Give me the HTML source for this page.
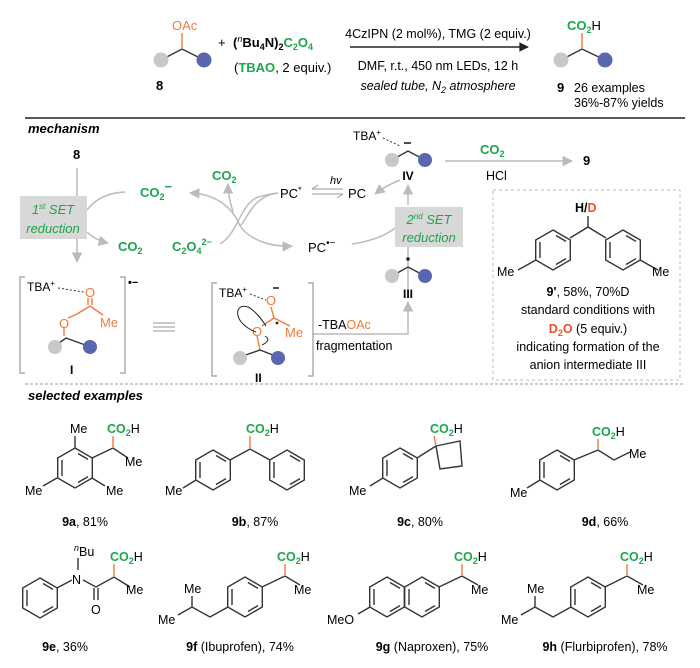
<!DOCTYPE html>
<html><head><meta charset="utf-8"><style>
html,body{margin:0;padding:0;background:#fff;}
svg{display:block;font-family:"Liberation Sans",Arial,sans-serif;}
.g{fill:#1aa64a}.o{fill:#f07a3a}.k{fill:#222}
</style></head><body>
<svg width="700" height="668" viewBox="0 0 700 668" xmlns="http://www.w3.org/2000/svg">
<defs>
<g id="hx" fill="none" stroke="#333" stroke-width="1.4">
<polygon points="0,-20 17.3,-10 17.3,10 0,20 -17.3,10 -17.3,-10"/>
<line x1="3" y1="-14.5" x2="13" y2="-8.6"/>
<line x1="13" y1="8.6" x2="3" y2="14.5"/>
<line x1="-13" y1="8" x2="-13" y2="-8"/>
</g>
<marker id="ar" viewBox="0 0 10 10" refX="9" refY="5" markerWidth="7" markerHeight="7" orient="auto"><path d="M0,0 L10,5 L0,10 z" fill="#bbb"/></marker>
<marker id="ak" viewBox="0 0 10 10" refX="9" refY="5" markerWidth="8" markerHeight="6" orient="auto"><path d="M0,0 L10,5 L0,10 z" fill="#222"/></marker>
</defs>

<!-- top reaction -->
<g stroke="#333" stroke-width="1.4" fill="none"><path d="M161,60 L182,49 L204,60"/></g>
<line x1="182" y1="49" x2="182" y2="33" stroke="#f07a3a" stroke-width="1.4"/>
<circle cx="161" cy="60" r="7.5" fill="#c8c8c8"/><circle cx="204" cy="60" r="7.5" fill="#5a66b0"/>
<text x="172" y="30" font-size="13" class="o">OAc</text>
<text x="156" y="90" font-size="13" font-weight="bold">8</text>
<text x="218" y="47" font-size="13">+</text>
<text x="233" y="47" font-size="13" font-weight="bold">(<tspan font-style="italic" font-weight="normal" font-size="9" dy="-5">n</tspan><tspan dy="5">Bu</tspan><tspan font-size="9" dy="3">4</tspan><tspan dy="-3">N)</tspan><tspan font-size="9" dy="3">2</tspan><tspan class="g" dy="-3">C</tspan><tspan class="g" font-size="9" dy="3">2</tspan><tspan class="g" dy="-3">O</tspan><tspan class="g" font-size="9" dy="3">4</tspan></text>
<text x="234" y="72" font-size="13">(<tspan class="g" font-weight="bold">TBAO</tspan>, 2 equiv.)</text>
<line x1="350" y1="47" x2="528" y2="47" stroke="#222" stroke-width="1.6" marker-end="url(#ak)"/>
<text x="438" y="38" font-size="12.5" text-anchor="middle">4CzIPN (2 mol%), TMG (2 equiv.)</text>
<text x="438" y="70" font-size="12.5" text-anchor="middle">DMF, r.t., 450 nm LEDs, 12 h</text>
<text x="438" y="90" font-size="12.5" text-anchor="middle" font-style="italic">sealed tube, N<tspan font-size="9" dy="3">2</tspan><tspan dy="-3"> atmosphere</tspan></text>
<g stroke="#333" stroke-width="1.4" fill="none"><path d="M561,60 L582,49 L605,60"/></g>
<line x1="582" y1="49" x2="582" y2="33" stroke="#f07a3a" stroke-width="1.4"/>
<circle cx="561" cy="60" r="7.5" fill="#c8c8c8"/><circle cx="605" cy="60" r="7.5" fill="#5a66b0"/>
<text x="567" y="30" font-size="13"><tspan class="g" font-weight="bold">CO</tspan><tspan class="g" font-weight="bold" font-size="9" dy="3">2</tspan><tspan dy="-3">H</tspan></text>
<text x="557" y="92" font-size="13" font-weight="bold">9</text>
<text x="574" y="92" font-size="12.5">26 examples</text>
<text x="574" y="107" font-size="12.5">36%-87% yields</text>
<line x1="25" y1="118" x2="685" y2="118" stroke="#222" stroke-width="1.6"/>

<!-- mechanism -->
<text x="28" y="133" font-size="13" font-weight="bold" font-style="italic">mechanism</text>
<text x="73" y="159" font-size="13" font-weight="bold">8</text>
<line x1="77" y1="168" x2="77" y2="262" stroke="#bbb" stroke-width="1.5" marker-end="url(#ar)"/>
<path d="M87,210 Q100,193 125,192" stroke="#bbb" stroke-width="1.5" fill="none"/>
<path d="M87,232 Q95,240 108,243" stroke="#bbb" stroke-width="1.5" fill="none" marker-end="url(#ar)"/>
<rect x="20" y="196" width="67" height="43" fill="#d8d8d8"/>
<text x="53" y="214" font-size="13" font-style="italic" class="g" text-anchor="middle">1<tspan font-size="8" dy="-5">st</tspan><tspan dy="5"> SET</tspan></text>
<text x="53" y="233" font-size="13" font-style="italic" class="g" text-anchor="middle">reduction</text>
<text x="118" y="251" font-size="13" font-weight="bold" class="g">CO<tspan font-size="9" dy="3">2</tspan></text>
<text x="140" y="197" font-size="13" font-weight="bold" class="g">CO<tspan font-size="9" dy="3">2</tspan><tspan dy="-9" font-size="13">−</tspan></text>
<text x="212" y="180" font-size="13" font-weight="bold" class="g">CO<tspan font-size="9" dy="3">2</tspan></text>
<text x="172" y="251" font-size="13" font-weight="bold" class="g">C<tspan font-size="9" dy="3">2</tspan><tspan dy="-3">O</tspan><tspan font-size="9" dy="3">4</tspan><tspan font-size="9" dy="-9">2−</tspan></text>
<path d="M220,244 C240,232 240,200 262,196 Q275,193 278,193" stroke="#bbb" stroke-width="1.5" fill="none"/>
<path d="M278,193 C252,196 246,222 240,226" stroke="#bbb" stroke-width="1.5" fill="none"/>
<path d="M240,226 C232,206 215,194 190,193" stroke="#bbb" stroke-width="1.5" fill="none" marker-end="url(#ar)"/>
<path d="M240,226 C250,240 270,247 292,246" stroke="#bbb" stroke-width="1.5" fill="none" marker-end="url(#ar)"/>
<path d="M233,212 Q228,195 228,184" stroke="#bbb" stroke-width="1.5" fill="none" marker-end="url(#ar)"/>
<text x="280" y="198" font-size="13">PC<tspan font-size="9" dy="-5">*</tspan></text>
<text x="330" y="184" font-size="11" font-style="italic">hv</text>
<line x1="312" y1="189" x2="343" y2="189" stroke="#999" stroke-width="1"/><path d="M312,189 L318,185" stroke="#999"/>
<line x1="312" y1="194" x2="343" y2="194" stroke="#999" stroke-width="1"/><path d="M343,194 L337,198" stroke="#999"/>
<text x="348" y="198" font-size="13">PC</text>
<text x="308" y="252" font-size="13">PC<tspan font-size="10" dy="-6">•−</tspan></text>
<path d="M352,244 Q380,240 395,228" stroke="#bbb" stroke-width="1.5" fill="none"/>
<path d="M408,205 L408,185" stroke="#bbb" stroke-width="1.5" fill="none" marker-end="url(#ar)"/>
<path d="M400,180 Q385,186 375,194" stroke="#bbb" stroke-width="1.5" fill="none" marker-end="url(#ar)"/>
<line x1="408" y1="295" x2="408" y2="247" stroke="#bbb" stroke-width="1.5"/>
<rect x="395" y="207" width="68" height="40" fill="#d8d8d8"/>
<text x="429" y="224" font-size="13" font-style="italic" class="g" text-anchor="middle">2<tspan font-size="8" dy="-5">nd</tspan><tspan dy="5"> SET</tspan></text>
<text x="429" y="242" font-size="13" font-style="italic" class="g" text-anchor="middle">reduction</text>
<!-- IV -->
<text x="353" y="140" font-size="12">TBA<tspan font-size="8" dy="-5">+</tspan></text>
<path d="M383,138 L400,146" stroke="#333" stroke-dasharray="2,2"/>
<path d="M392,160 L408,151 L425,160" stroke="#333" stroke-width="1.4" fill="none"/>
<line x1="404" y1="143" x2="411" y2="143" stroke="#222" stroke-width="1.6"/>
<circle cx="392" cy="160" r="7" fill="#c8c8c8"/><circle cx="425" cy="160" r="7" fill="#5a66b0"/>
<text x="408" y="180" font-size="12" font-weight="bold" text-anchor="middle">IV</text>
<line x1="445" y1="161" x2="572" y2="161" stroke="#bbb" stroke-width="1.5" marker-end="url(#ar)"/>
<text x="480" y="154" font-size="13" font-weight="bold" class="g">CO<tspan font-size="9" dy="3">2</tspan></text>
<text x="486" y="180" font-size="12.5">HCl</text>
<text x="583" y="165" font-size="13" font-weight="bold">9</text>
<!-- III -->
<path d="M392,276 L408,267 L425,276" stroke="#333" stroke-width="1.4" fill="none"/>
<circle cx="408" cy="259" r="1.8" fill="#222"/>
<circle cx="392" cy="276" r="7" fill="#c8c8c8"/><circle cx="425" cy="276" r="7" fill="#5a66b0"/>
<text x="408" y="298" font-size="12" font-weight="bold" text-anchor="middle">III</text>
<path d="M313,334 L408,334 L408,302" stroke="#bbb" stroke-width="1.5" fill="none" marker-end="url(#ar)"/>
<text x="318" y="329" font-size="12.5">-TBA<tspan class="o">OAc</tspan></text>
<text x="316" y="350" font-size="12.5">fragmentation</text>
<!-- dashed box -->
<rect x="493" y="190" width="187" height="190" fill="none" stroke="#bbb" stroke-dasharray="3,3"/>
<text x="575" y="212" font-size="12.5" font-weight="bold">H/<tspan fill="#e8502a">D</tspan></text>
<line x1="588" y1="216" x2="588" y2="227" stroke="#333" stroke-width="1.4"/>
<path d="M570,238 L588,227 L606,238" stroke="#333" stroke-width="1.4" fill="none"/>
<use href="#hx" x="553" y="250"/><use href="#hx" x="623" y="250"/>
<line x1="536" y1="260" x2="518" y2="270" stroke="#333" stroke-width="1.4"/>
<line x1="640" y1="260" x2="658" y2="270" stroke="#333" stroke-width="1.4"/>
<text x="497" y="276" font-size="12.5">Me</text><text x="652" y="276" font-size="12.5">Me</text>
<g font-size="12.5" text-anchor="middle">
<text x="588" y="296"><tspan font-weight="bold">9'</tspan>, 58%, 70%D</text>
<text x="588" y="314">standard conditions with</text>
<text x="588" y="333"><tspan fill="#e8502a" font-weight="bold">D<tspan font-size="9" dy="3">2</tspan><tspan dy="-3">O</tspan></tspan> (5 equiv.)</text>
<text x="588" y="351">indicating formation of the</text>
<text x="588" y="369">anion intermediate III</text>
</g>
<!-- I -->
<path d="M25,277 L20,277 L20,373 L25,373 M120,277 L125,277 L125,373 L120,373" stroke="#999" stroke-width="1.2" fill="none"/>
<text x="128" y="286" font-size="11" font-weight="bold">•−</text>
<text x="27" y="291" font-size="12">TBA<tspan font-size="8" dy="-5">+</tspan></text>
<path d="M58,288 L84,292" stroke="#333" stroke-dasharray="2,2"/>
<g stroke="#f07a3a" stroke-width="1.4" fill="none"><path d="M88,298 L88,305 M92,298 L92,305 M90,306 L77,314 M90,306 L103,315 M77,314 L68,318 M64,327 L64,336"/></g>
<text x="85" y="297" font-size="13" class="o">O</text>
<text x="59" y="328" font-size="13" class="o">O</text>
<text x="100" y="327" font-size="13" class="o">Me</text>
<path d="M55,346 L66,338 L88,346" stroke="#333" stroke-width="1.4" fill="none"/>
<circle cx="55" cy="347" r="7" fill="#c8c8c8"/><circle cx="90" cy="347" r="7" fill="#5a66b0"/>
<text x="70" y="374" font-size="12" font-weight="bold">I</text>
<g stroke="#aaa" stroke-width="1.2"><line x1="153" y1="323" x2="175" y2="323"/><line x1="153" y1="327" x2="175" y2="327"/><line x1="153" y1="331" x2="175" y2="331"/></g>
<!-- II -->
<path d="M217,283 L212,283 L212,376 L217,376 M308,283 L313,283 L313,376 L308,376" stroke="#999" stroke-width="1.2" fill="none"/>
<text x="219" y="297" font-size="12">TBA<tspan font-size="8" dy="-5">+</tspan></text>
<path d="M250,294 L266,300" stroke="#333" stroke-dasharray="2,2"/>
<text x="266" y="305" font-size="13" class="o">O</text>
<line x1="273" y1="288" x2="279" y2="288" stroke="#222" stroke-width="1.6"/>
<g stroke="#f07a3a" stroke-width="1.4" fill="none"><path d="M271,307 L274,318 M274,318 L262,326 M274,318 L290,326 M257,336 L260,350"/></g>
<text x="252" y="336" font-size="13" class="o">O</text>
<text x="285" y="337" font-size="13" class="o">Me</text>
<path d="M240,357 L260,350 L278,357" stroke="#333" stroke-width="1.4" fill="none"/>
<circle cx="240" cy="358" r="7" fill="#c8c8c8"/><circle cx="278" cy="358" r="7" fill="#5a66b0"/>
<path d="M256,332 C230,322 235,300 250,308 C258,314 262,320 266,326" stroke="#222" stroke-width="1" fill="none"/>
<path d="M262,345 Q272,340 265,336" stroke="#222" stroke-width="1" fill="none"/>
<circle cx="277" cy="323" r="1.4" fill="#222"/>
<text x="255" y="382" font-size="12" font-weight="bold">II</text>
<line x1="25" y1="384" x2="685" y2="384" stroke="#999" stroke-dasharray="3,2"/>

<!-- examples -->
<text x="28" y="400" font-size="13" font-weight="bold" font-style="italic">selected examples</text>
<g font-size="12.5">
<!-- 9a -->
<use href="#hx" x="75" y="468"/>
<g stroke="#333" stroke-width="1.4" fill="none"><path d="M75,448 L75,436 M92,458 L113,448 L128,458 M57,478 L43,486 M92,478 L105,486"/></g>
<line x1="113" y1="448" x2="113" y2="436" stroke="#f07a3a" stroke-width="1.4"/>
<text x="70" y="433">Me</text>
<text x="107" y="433"><tspan class="g" font-weight="bold">CO</tspan><tspan class="g" font-weight="bold" font-size="9" dy="3">2</tspan><tspan dy="-3">H</tspan></text>
<text x="125" y="466">Me</text><text x="25" y="495">Me</text><text x="106" y="495">Me</text>
<text x="85" y="526" text-anchor="middle"><tspan font-weight="bold">9a</tspan>, 81%</text>
<!-- 9b -->
<use href="#hx" x="213" y="470"/><use href="#hx" x="287" y="470"/>
<g stroke="#333" stroke-width="1.4" fill="none"><path d="M230,460 L250,449 L270,460 M196,480 L183,488"/></g>
<line x1="250" y1="449" x2="250" y2="436" stroke="#f07a3a" stroke-width="1.4"/>
<text x="246" y="433"><tspan class="g" font-weight="bold">CO</tspan><tspan class="g" font-weight="bold" font-size="9" dy="3">2</tspan><tspan dy="-3">H</tspan></text>
<text x="165" y="495">Me</text>
<text x="255" y="526" text-anchor="middle"><tspan font-weight="bold">9b</tspan>, 87%</text>
<!-- 9c -->
<use href="#hx" x="400" y="468"/>
<g stroke="#333" stroke-width="1.4" fill="none"><path d="M417,458 L436,446 M436,446 L460,441 L462,466 L440,469 Z M383,478 L370,486"/></g>
<line x1="436" y1="446" x2="434" y2="436" stroke="#f07a3a" stroke-width="1.4"/>
<text x="430" y="433"><tspan class="g" font-weight="bold">CO</tspan><tspan class="g" font-weight="bold" font-size="9" dy="3">2</tspan><tspan dy="-3">H</tspan></text>
<text x="349" y="495">Me</text>
<text x="420" y="526" text-anchor="middle"><tspan font-weight="bold">9c</tspan>, 80%</text>
<!-- 9d -->
<use href="#hx" x="557" y="470"/>
<g stroke="#333" stroke-width="1.4" fill="none"><path d="M574,460 L598,450 L614,460 L630,452 M540,480 L527,488"/></g>
<line x1="598" y1="450" x2="598" y2="439" stroke="#f07a3a" stroke-width="1.4"/>
<text x="592" y="436"><tspan class="g" font-weight="bold">CO</tspan><tspan class="g" font-weight="bold" font-size="9" dy="3">2</tspan><tspan dy="-3">H</tspan></text>
<text x="629" y="458">Me</text><text x="510" y="497">Me</text>
<text x="605" y="526" text-anchor="middle"><tspan font-weight="bold">9d</tspan>, 66%</text>
<!-- 9e -->
<use href="#hx" x="40" y="598"/>
<g stroke="#333" stroke-width="1.4" fill="none"><path d="M57,588 L72,580 M83,580 L96,587 L114,577 L130,587 M78,558 L78,570 M94,588 L94,600 M98,588 L98,600"/></g>
<line x1="114" y1="577" x2="114" y2="564" stroke="#f07a3a" stroke-width="1.4"/>
<text x="72" y="584">N</text>
<text x="74" y="556"><tspan font-style="italic" font-size="9" dy="-5">n</tspan><tspan dy="5">Bu</tspan></text>
<text x="91" y="614">O</text>
<text x="110" y="561"><tspan class="g" font-weight="bold">CO</tspan><tspan class="g" font-weight="bold" font-size="9" dy="3">2</tspan><tspan dy="-3">H</tspan></text>
<text x="126" y="594">Me</text>
<text x="65" y="651" text-anchor="middle"><tspan font-weight="bold">9e</tspan>, 36%</text>
<!-- 9f -->
<use href="#hx" x="245" y="597"/>
<g stroke="#333" stroke-width="1.4" fill="none"><path d="M262,587 L285,576 L300,585 M228,607 L210,617 L192,607 L178,615 M192,607 L192,596"/></g>
<line x1="285" y1="576" x2="285" y2="564" stroke="#f07a3a" stroke-width="1.4"/>
<text x="277" y="561"><tspan class="g" font-weight="bold">CO</tspan><tspan class="g" font-weight="bold" font-size="9" dy="3">2</tspan><tspan dy="-3">H</tspan></text>
<text x="294" y="594">Me</text><text x="184" y="593">Me</text><text x="158" y="624">Me</text>
<text x="240" y="651" text-anchor="middle"><tspan font-weight="bold">9f</tspan> (Ibuprofen), 74%</text>
<!-- 9g -->
<use href="#hx" x="387" y="597"/><use href="#hx" x="422" y="597"/>
<g stroke="#333" stroke-width="1.4" fill="none"><path d="M439,587 L462,576 L478,585 M370,607 L358,614"/></g>
<line x1="462" y1="576" x2="462" y2="564" stroke="#f07a3a" stroke-width="1.4"/>
<text x="454" y="561"><tspan class="g" font-weight="bold">CO</tspan><tspan class="g" font-weight="bold" font-size="9" dy="3">2</tspan><tspan dy="-3">H</tspan></text>
<text x="471" y="594">Me</text><text x="327" y="624">MeO</text>
<text x="432" y="651" text-anchor="middle"><tspan font-weight="bold">9g</tspan> (Naproxen), 75%</text>
<!-- 9h -->
<use href="#hx" x="588" y="597"/>
<g stroke="#333" stroke-width="1.4" fill="none"><path d="M605,587 L627,576 L643,585 M571,607 L553,617 L535,607 L521,615 M535,607 L535,596"/></g>
<line x1="627" y1="576" x2="627" y2="564" stroke="#f07a3a" stroke-width="1.4"/>
<text x="620" y="561"><tspan class="g" font-weight="bold">CO</tspan><tspan class="g" font-weight="bold" font-size="9" dy="3">2</tspan><tspan dy="-3">H</tspan></text>
<text x="637" y="594">Me</text><text x="527" y="593">Me</text><text x="501" y="624">Me</text>
<text x="605" y="651" text-anchor="middle"><tspan font-weight="bold">9h</tspan> (Flurbiprofen), 78%</text>
</g>
</svg>
</body></html>
